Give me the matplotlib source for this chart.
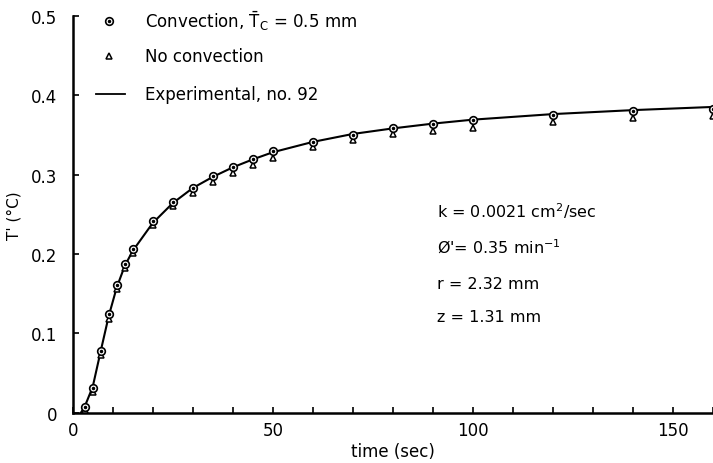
import matplotlib; matplotlib.use('Agg')
import matplotlib.pyplot as plt
from matplotlib.lines import Line2D

# data
t_pts = [3, 5, 7, 9, 11, 13, 15, 20, 25, 30, 35, 40, 45, 50, 60, 70, 80, 90, 100, 120, 140, 160]
conv = [0.008, 0.032, 0.078, 0.124, 0.161, 0.188, 0.206, 0.241, 0.265, 0.283, 0.298, 0.309,
        0.320, 0.329, 0.341, 0.350, 0.359, 0.363, 0.368, 0.375, 0.380, 0.383]
noconv = [0.004, 0.027, 0.073, 0.118, 0.156, 0.183, 0.201, 0.236, 0.260, 0.277, 0.291, 0.302,
          0.312, 0.321, 0.334, 0.343, 0.351, 0.355, 0.359, 0.366, 0.371, 0.374]
t_exp = [2, 3, 5, 7, 9, 11, 13, 15, 20, 25, 30, 35, 40, 45, 50, 60, 70, 80, 90, 100, 120, 140, 160]
T_exp = [0.0, 0.008, 0.033, 0.078, 0.122, 0.158, 0.185, 0.204, 0.239, 0.264, 0.283, 0.297, 0.309,
         0.319, 0.328, 0.341, 0.351, 0.358, 0.364, 0.369, 0.376, 0.381, 0.385]
xticks = [0, 50, 100, 150]
yticks = [0, 0.1, 0.2, 0.3, 0.4, 0.5]
ytlabels = ['0', '0.1', '0.2', '0.3', '0.4', '0.5']
params = ['k = 0.0021 cm$^{2}$/sec', "Ø'= 0.35 min$^{-1}$", 'r = 2.32 mm', 'z = 1.31 mm']

plt.rcParams['font.family'] = ['DejaVu Sans']
plt.rcParams['mathtext.fontset'] = 'dejavusans'
fs = 12

fig = plt.figure(figsize=(7.13, 4.64), dpi=100)
ax = fig.add_axes([0.102, 0.1078, 0.898, 0.8566])

ax.plot(t_exp, T_exp, color='black', lw=1.5, zorder=2)
ax.plot(t_pts, noconv, ls='none', marker='^', ms=5, mfc='white', mec='black', mew=1.1, zorder=3, clip_on=False)
ax.plot(t_pts, conv, ls='none', marker='o', ms=5.5, mfc='white', mec='black', mew=1.2, zorder=4, clip_on=False)
ax.plot(t_pts, conv, ls='none', marker='o', ms=1.5, color='black', zorder=5, clip_on=False)

ax.set_xlim(0, 160)
ax.set_ylim(0, 0.5)
ax.set_xticks(xticks)
ax.set_xticks(range(0, 161, 10), minor=True)
ax.set_yticks(yticks)
ax.set_yticklabels(ytlabels)
for s in ['top', 'right']:
    ax.spines[s].set_visible(False)
for s in ['left', 'bottom']:
    ax.spines[s].set_linewidth(1.8)
ax.tick_params(which='both', direction='in', length=4, width=1.2, labelsize=fs)
ax.tick_params(axis='x', which='major', pad=6)
ax.tick_params(axis='y', which='major', pad=11)
ax.set_xlabel('time (sec)', fontsize=fs, labelpad=2)
ax.set_ylabel("T' (°C)", fontsize=fs - 1, labelpad=7)

# legend, drawn by hand
fx = lambda px: (px - 72.7) / 640.
fy = lambda py: (414 - py) / 397.5
ax.add_line(Line2D([fx(109)], [fy(21.5)], marker='o', ms=5.5, mfc='white', mec='black', mew=1.2, transform=ax.transAxes, clip_on=False))
ax.add_line(Line2D([fx(109)], [fy(21.5)], marker='o', ms=1.5, color='black', transform=ax.transAxes, clip_on=False))
ax.add_line(Line2D([fx(109)], [fy(57)], marker='^', ms=5, mfc='white', mec='black', mew=1.1, transform=ax.transAxes, clip_on=False))
ax.add_line(Line2D([fx(96), fx(125)], [fy(95), fy(95)], color='black', lw=1.3, transform=ax.transAxes, clip_on=False))
ax.text(fx(145), fy(21.5), r'Convection, $\bar{\mathrm{T}}_{\mathrm{C}}$ = 0.5 mm', transform=ax.transAxes, fontsize=fs, va='center')
ax.text(fx(145), fy(57), 'No convection', transform=ax.transAxes, fontsize=fs, va='center')
ax.text(fx(145), fy(95), 'Experimental, no. 92', transform=ax.transAxes, fontsize=fs, va='center')

for i, s in enumerate(params):
    ax.text(fx(437), fy([211, 248, 285, 318][i]), s, transform=ax.transAxes, fontsize=fs - 0.5, va='center')

fig.savefig('out.png', dpi=100)
